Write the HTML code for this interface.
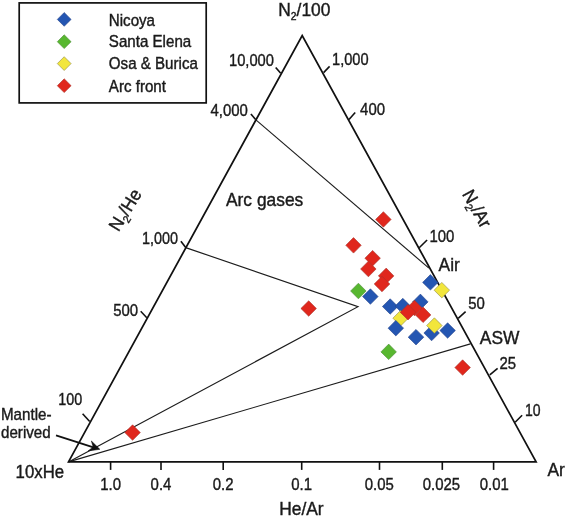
<!DOCTYPE html>
<html><head><meta charset="utf-8"><title>Ternary diagram</title>
<style>
html,body{margin:0;padding:0;background:#fff;}
svg{display:block;filter:blur(0.5px);}
text{font-family:"Liberation Sans",Arial,Helvetica,sans-serif;fill:#1a1a1a;}
.t{font-size:17.2px;}
.b{font-size:18.2px;}
.l{font-size:15.6px;}
.m{font-size:16.3px;}
text{stroke:#1a1a1a;stroke-width:0.4px;}
</style></head><body>
<svg width="566" height="519" viewBox="0 0 566 519">
<rect width="566" height="519" fill="#fff"/>

<rect x="19.2" y="2.9" width="187" height="100" fill="#fff" stroke="#111" stroke-width="1.7"/>
<path d="M64.2 12.5L71.1 19.4L64.2 26.3L57.3 19.4Z" fill="#2456b2" stroke="#27458a" stroke-width="0.6"/>
<path d="M64.2 34.8L71.1 41.7L64.2 48.6L57.3 41.7Z" fill="#58b730" stroke="#4a8a35" stroke-width="0.6"/>
<path d="M64.2 56.7L71.1 63.6L64.2 70.5L57.3 63.6Z" fill="#f2e63c" stroke="#8f8a4a" stroke-width="0.6"/>
<path d="M64.2 78.8L71.1 85.7L64.2 92.6L57.3 85.7Z" fill="#e0271d" stroke="#a8342c" stroke-width="0.6"/>
<text class="l" transform="translate(108.8 25.9) scale(0.97 1)">Nicoya</text>
<text class="l" transform="translate(108.8 47.4) scale(0.97 1)">Santa Elena</text>
<text class="l" transform="translate(108.8 69.3) scale(0.97 1)">Osa &amp; Burica</text>
<text class="l" transform="translate(108.8 91.5) scale(0.97 1)">Arc front</text>
<path d="M255.6 119.6L428.9 268.1" stroke="#1c1c1c" stroke-width="1.15" fill="none"/>
<path d="M185.7 247.6L358 306.7L68.5 461.9" stroke="#1c1c1c" stroke-width="1.15" fill="none"/>
<path d="M68.5 461.9L470.4 343.9" stroke="#1c1c1c" stroke-width="1.15" fill="none"/>
<path d="M68.5 461.9L302.2 35.5L536.1 461.9Z" fill="none" stroke="#111" stroke-width="1.75" stroke-linejoin="miter"/>
<path d="M280.7 73.3L275.7 67.4" stroke="#111" stroke-width="1.6" fill="none"/>
<path d="M255.6 119.6L250.9 114.0" stroke="#111" stroke-width="1.6" fill="none"/>
<path d="M185.7 247.6L180.9 241.2" stroke="#111" stroke-width="1.6" fill="none"/>
<path d="M146.8 317.8L140.7 311.3" stroke="#111" stroke-width="1.6" fill="none"/>
<path d="M89.7 421.5L82.6 413.8" stroke="#111" stroke-width="1.6" fill="none"/>
<path d="M323.6 72.6L329.6 66.4" stroke="#111" stroke-width="1.6" fill="none"/>
<path d="M349.0 119.5L355.2 112.5" stroke="#111" stroke-width="1.6" fill="none"/>
<path d="M419.2 247.7L427.1 240.0" stroke="#111" stroke-width="1.6" fill="none"/>
<path d="M458.2 318.3L465.6 311.6" stroke="#111" stroke-width="1.6" fill="none"/>
<path d="M489.8 374.9L497.6 368.4" stroke="#111" stroke-width="1.6" fill="none"/>
<path d="M515.1 422.3L522.1 415.3" stroke="#111" stroke-width="1.6" fill="none"/>
<path d="M110.6 461.9L110.6 469.9" stroke="#111" stroke-width="1.6" fill="none"/>
<path d="M161.0 461.9L161.0 469.9" stroke="#111" stroke-width="1.6" fill="none"/>
<path d="M223.2 461.9L223.2 469.9" stroke="#111" stroke-width="1.6" fill="none"/>
<path d="M301.7 461.9L301.7 469.9" stroke="#111" stroke-width="1.6" fill="none"/>
<path d="M379.5 461.9L379.5 469.9" stroke="#111" stroke-width="1.6" fill="none"/>
<path d="M442.3 461.9L442.3 469.9" stroke="#111" stroke-width="1.6" fill="none"/>
<path d="M493.6 461.9L493.6 469.9" stroke="#111" stroke-width="1.6" fill="none"/>
<path d="M383.4 211.7L391.1 219.4L383.4 227.2L375.6 219.4Z" fill="#e0271d" stroke="#a8342c" stroke-width="0.6"/>
<path d="M353.5 237.6L361.2 245.3L353.5 253.1L345.8 245.3Z" fill="#e0271d" stroke="#a8342c" stroke-width="0.6"/>
<path d="M372.6 250.4L380.4 258.2L372.6 265.9L364.9 258.2Z" fill="#e0271d" stroke="#a8342c" stroke-width="0.6"/>
<path d="M368.4 261.2L376.1 269.0L368.4 276.8L360.6 269.0Z" fill="#e0271d" stroke="#a8342c" stroke-width="0.6"/>
<path d="M386.2 268.1L393.9 275.9L386.2 283.6L378.4 275.9Z" fill="#e0271d" stroke="#a8342c" stroke-width="0.6"/>
<path d="M382.0 276.2L389.8 284.0L382.0 291.8L374.2 284.0Z" fill="#e0271d" stroke="#a8342c" stroke-width="0.6"/>
<path d="M358.4 283.2L366.1 291.0L358.4 298.8L350.6 291.0Z" fill="#58b730" stroke="#4a8a35" stroke-width="0.6"/>
<path d="M370.4 288.8L378.1 296.6L370.4 304.3L362.6 296.6Z" fill="#2456b2" stroke="#27458a" stroke-width="0.6"/>
<path d="M430.4 274.6L438.1 282.4L430.4 290.1L422.6 282.4Z" fill="#2456b2" stroke="#27458a" stroke-width="0.6"/>
<path d="M441.8 282.4L449.6 290.2L441.8 297.9L434.1 290.2Z" fill="#f2e63c" stroke="#8f8a4a" stroke-width="0.6"/>
<path d="M390.2 298.8L397.9 306.5L390.2 314.2L382.4 306.5Z" fill="#2456b2" stroke="#27458a" stroke-width="0.6"/>
<path d="M402.8 298.3L410.6 306.1L402.8 313.8L395.1 306.1Z" fill="#2456b2" stroke="#27458a" stroke-width="0.6"/>
<path d="M420.4 294.1L428.1 301.9L420.4 309.6L412.6 301.9Z" fill="#2456b2" stroke="#27458a" stroke-width="0.6"/>
<path d="M414.5 300.2L422.2 308.0L414.5 315.8L406.8 308.0Z" fill="#e0271d" stroke="#a8342c" stroke-width="0.6"/>
<path d="M423.1 307.1L430.9 314.9L423.1 322.6L415.4 314.9Z" fill="#e0271d" stroke="#a8342c" stroke-width="0.6"/>
<path d="M400.6 310.4L408.4 318.2L400.6 325.9L392.9 318.2Z" fill="#f2e63c" stroke="#8f8a4a" stroke-width="0.6"/>
<path d="M408.0 304.4L415.8 312.2L408.0 319.9L400.2 312.2Z" fill="#e0271d" stroke="#a8342c" stroke-width="0.6"/>
<path d="M395.8 320.4L403.6 328.2L395.8 335.9L388.1 328.2Z" fill="#2456b2" stroke="#27458a" stroke-width="0.6"/>
<path d="M431.6 325.2L439.4 333.0L431.6 340.8L423.9 333.0Z" fill="#2456b2" stroke="#27458a" stroke-width="0.6"/>
<path d="M434.4 317.8L442.1 325.6L434.4 333.3L426.6 325.6Z" fill="#f2e63c" stroke="#8f8a4a" stroke-width="0.6"/>
<path d="M447.6 322.8L455.4 330.5L447.6 338.2L439.9 330.5Z" fill="#2456b2" stroke="#27458a" stroke-width="0.6"/>
<path d="M416.0 329.4L423.8 337.2L416.0 344.9L408.2 337.2Z" fill="#2456b2" stroke="#27458a" stroke-width="0.6"/>
<path d="M388.7 344.1L396.4 351.9L388.7 359.6L380.9 351.9Z" fill="#58b730" stroke="#4a8a35" stroke-width="0.6"/>
<path d="M462.6 359.8L470.4 367.6L462.6 375.3L454.9 367.6Z" fill="#e0271d" stroke="#a8342c" stroke-width="0.6"/>
<path d="M308.7 300.8L316.4 308.5L308.7 316.2L300.9 308.5Z" fill="#e0271d" stroke="#a8342c" stroke-width="0.6"/>
<path d="M132.6 424.8L140.3 432.6L132.6 440.3L124.8 432.6Z" fill="#e0271d" stroke="#a8342c" stroke-width="0.6"/>
<text class="b" transform="translate(278.3 15.5) scale(0.955 1)">N<tspan font-size="10.8" dy="4">2</tspan><tspan dy="-4">/100</tspan></text>
<text class="t" transform="translate(274.0 65.8) scale(0.857 1)" text-anchor="end">10,000</text>
<text class="t" transform="translate(247.9 115.9) scale(0.869 1)" text-anchor="end">4,000</text>
<text class="t" transform="translate(178.1 243.6) scale(0.84 1)" text-anchor="end">1,000</text>
<text class="t" transform="translate(138.1 315.6) scale(0.869 1)" text-anchor="end">500</text>
<text class="t" transform="translate(82.2 405.4) scale(0.835 1)" text-anchor="end">100</text>
<text class="t" transform="translate(332.0 65.4) scale(0.85 1)">1,000</text>
<text class="t" transform="translate(360.1 115.3) scale(0.869 1)">400</text>
<text class="t" transform="translate(429.4 242.4) scale(0.869 1)">100</text>
<text class="t" transform="translate(468.2 309.3) scale(0.869 1)">50</text>
<text class="t" transform="translate(499.5 368.7) scale(0.869 1)">25</text>
<text class="t" transform="translate(525.0 416.0) scale(0.815 1)">10</text>
<text class="t" transform="translate(110.6 489.9) scale(0.869 1)" text-anchor="middle">1.0</text>
<text class="t" transform="translate(161 489.9) scale(0.869 1)" text-anchor="middle">0.4</text>
<text class="t" transform="translate(223.2 489.9) scale(0.869 1)" text-anchor="middle">0.2</text>
<text class="t" transform="translate(301.7 489.9) scale(0.869 1)" text-anchor="middle">0.1</text>
<text class="t" transform="translate(379.2 489.9) scale(0.869 1)" text-anchor="middle">0.05</text>
<text class="t" transform="translate(441.4 489.9) scale(0.869 1)" text-anchor="middle">0.025</text>
<text class="t" transform="translate(494.2 489.9) scale(0.869 1)" text-anchor="middle">0.01</text>
<text class="b" transform="translate(15.6 478.4) scale(0.922 1)">10xHe</text>
<text class="b" transform="translate(547.5 475.6) scale(0.955 1)">Ar</text>
<text class="b" transform="translate(279.2 515) scale(0.955 1)">He/Ar</text>
<text class="b" transform="translate(226 205.8) scale(0.955 1)">Arc gases</text>
<text class="b" transform="translate(438.6 270.5) scale(0.955 1)">Air</text>
<text class="b" transform="translate(479.8 344.4) scale(0.955 1)">ASW</text>
<text class="m" transform="translate(1.0 420.1) scale(0.93 1)">Mantle-</text>
<text class="m" transform="translate(1.0 437.5) scale(0.93 1)">derived</text>
<text class="b" text-anchor="middle" transform="translate(130.4,213.1) rotate(-58.5) scale(0.955 1)">N<tspan font-size="10.8" dy="4">2</tspan><tspan dy="-4">/He</tspan></text>
<text class="b" text-anchor="middle" transform="translate(471.6,211.6) rotate(61) scale(0.955 1)">N<tspan font-size="10.8" dy="4">2</tspan><tspan dy="-4">/Ar</tspan></text>
<path d="M56.0 435.4L95 447.8" stroke="#111" stroke-width="1.8" fill="none"/>
<path d="M99.8 449.3L88.2 450.9L93.2 446.9L91.4 441.0Z" fill="#111" stroke="#111" stroke-width="0.6" stroke-linejoin="miter"/>
</svg></body></html>
